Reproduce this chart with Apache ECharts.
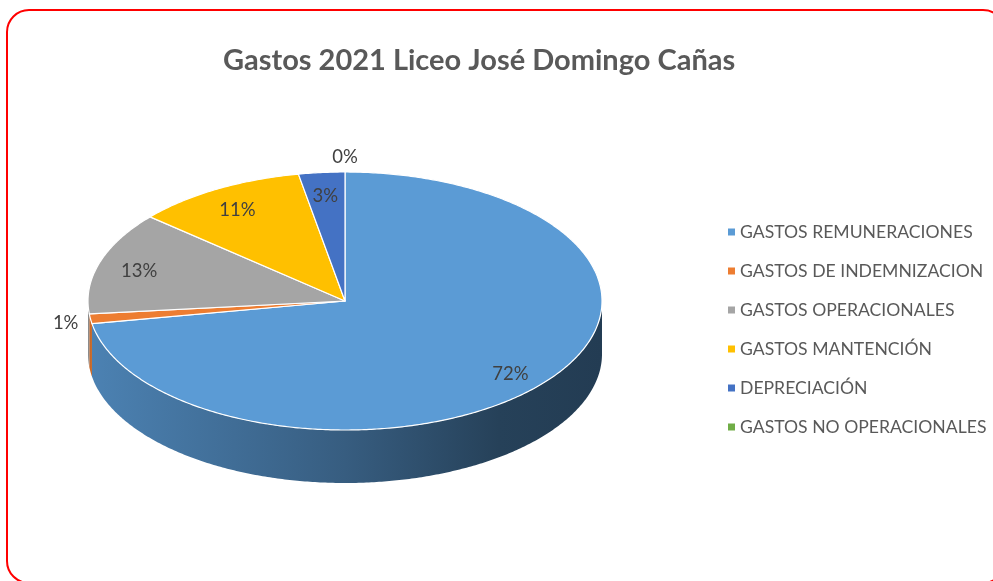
<!DOCTYPE html>
<html>
<head>
<meta charset="utf-8">
<script src="https://cdn.jsdelivr.net/npm/echarts@6/dist/echarts.min.js"></script>
<style>
  html, body { margin: 0; padding: 0; background: #fff; }
  #chart { width: 993px; height: 581px; }
</style>
</head>
<body>
<div id="chart"></div>
<script>
  // categorias y valores (porcentaje del gasto total)
  var categories = [
    'GASTOS REMUNERACIONES',
    'GASTOS DE INDEMNIZACION',
    'GASTOS OPERACIONALES',
    'GASTOS MANTENCIÓN',
    'DEPRECIACIÓN',
    'GASTOS NO OPERACIONALES'
  ];
  var values = [72.2, 1.2, 12.9, 10.8, 2.9, 0];
  var colors = ['#5b9bd5', '#ed7d31', '#a5a5a5', '#ffc000', '#4472c4', '#70ad47'];

  // geometria del pie 3D (elipse superior + grosor)
  var CX = 345, CY = 301, RX = 257, RY = 129, DEPTH = 53;

  var total = values.reduce(function (a, b) { return a + b; }, 0);

  function shade(hex, k) {
    var n = parseInt(hex.slice(1), 16);
    var r = Math.round(((n >> 16) & 255) * k);
    var g = Math.round(((n >> 8) & 255) * k);
    var b = Math.round((n & 255) * k);
    return 'rgb(' + r + ',' + g + ',' + b + ')';
  }

  function pt(a, k, dz) {
    return [CX + RX * k * Math.sin(a), CY - RY * k * Math.cos(a) + (dz || 0)];
  }

  function arc(a0, a1, k, dz) {
    var pts = [];
    var n = Math.max(2, Math.ceil(Math.abs(a1 - a0) / 0.01));
    for (var j = 0; j <= n; j++) {
      pts.push(pt(a0 + (a1 - a0) * j / n, k, dz));
    }
    return pts;
  }

  function renderSlice(params, api) {
    var i = params.seriesIndex;
    var before = 0;
    for (var j = 0; j < i; j++) before += values[j];
    var a0 = before / total * Math.PI * 2;
    var a1 = (before + values[i]) / total * Math.PI * 2;
    var color = colors[i];
    var children = [];

    if (a1 > a0) {
      // pared frontal visible (entre 90 y 270 grados)
      var w0 = Math.max(a0, Math.PI / 2), w1 = Math.min(a1, Math.PI * 1.5);
      if (w1 > w0) {
        var wall = arc(w0, w1, 1, 0).concat(arc(w1, w0, 1, DEPTH));
        children.push({
          type: 'polygon',
          z2: 1,
          shape: { points: wall },
          style: {
            fill: {
              type: 'linear', global: true,
              x: CX - RX, y: 0, x2: CX + RX, y2: 0,
              colorStops: [
                { offset: 0, color: shade(color, 0.84) },
                { offset: 0.5, color: shade(color, 0.6) },
                { offset: 0.8, color: shade(color, 0.42) },
                { offset: 1, color: shade(color, 0.39) }
              ]
            },
            stroke: null
          }
        });
      }
      // cara superior
      children.push({
        type: 'polygon',
        z2: 5,
        shape: { points: [[CX, CY]].concat(arc(a0, a1, 1, 0)) },
        style: { fill: color, stroke: '#fff', lineWidth: 1.2, lineJoin: 'round' }
      });
    }

    // etiqueta de porcentaje
    var pct = Math.round(values[i] / total * 100);
    var mid = (a0 + a1) / 2;
    var p, align = 'center', vAlign = 'middle';
    if (pct >= 2) {
      p = pt(mid, 0.84, 0);
      p[1] += 3;
    } else {
      var e = pt(mid, 1, 0);
      var s = Math.sin(mid), c = Math.cos(mid);
      if (Math.abs(s) < 0.3) {
        p = [e[0], e[1] - 5];
        vAlign = c > 0 ? 'bottom' : 'top';
      } else {
        p = [e[0] + (s > 0 ? 12 : -12), e[1] + 4];
        align = s > 0 ? 'left' : 'right';
      }
    }
    children.push({
      type: 'text',
      z2: 10,
      style: {
        x: p[0], y: p[1],
        text: pct + '%',
        fill: '#404040',
        font: '18.5px Lato',
        align: align,
        verticalAlign: vAlign
      }
    });

    return { type: 'group', children: children };
  }

  var chart = echarts.init(document.getElementById('chart'));

  var series = categories.map(function (name, i) {
    return {
      type: 'custom',
      name: name,
      coordinateSystem: 'none',
      silent: true,
      itemStyle: { color: colors[i] },
      renderItem: renderSlice,
      data: [[values[i]]]
    };
  });

  chart.setOption({
    animation: false,
    title: {
      text: 'Gastos 2021 Liceo José Domingo Cañas',
      left: 218,
      top: 41,
      textStyle: { fontFamily: 'Lato', fontSize: 29, fontWeight: 'bold', color: '#595959' }
    },
    legend: {
      orient: 'vertical',
      left: 723,
      top: 217,
      icon: 'rect',
      itemWidth: 7,
      itemHeight: 7,
      itemGap: 19,
      selectedMode: false,
      textStyle: { fontFamily: 'Lato', fontSize: 17.6, color: '#595959', lineHeight: 20 },
      data: categories
    },
    graphic: [{
      type: 'rect',
      silent: true,
      shape: { x: 7, y: 10, width: 998, height: 573, r: 22 },
      style: { fill: 'none', stroke: '#ff0000', lineWidth: 2 }
    }],
    series: series
  });
</script>
</body>
</html>
